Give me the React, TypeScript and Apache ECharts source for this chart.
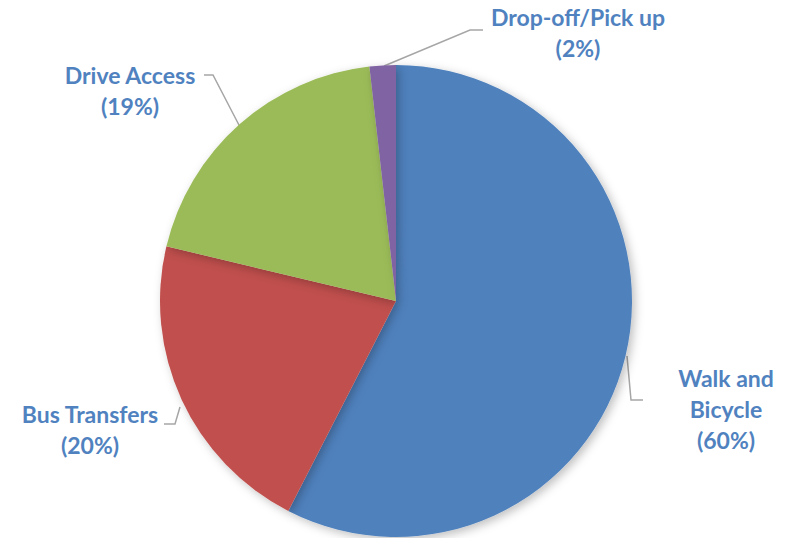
import React, { useEffect, useRef } from "react";
import * as echarts from "echarts";

const categories = ["Walk and\nBicycle", "Bus Transfers", "Drive Access", "Drop-off/Pick up"];
const shares = [57.6, 21.2, 19.5, 1.8];
const pctLabels = ["60%", "20%", "19%", "2%"];
const colors = ["#4F81BD", "#C0504D", "#9BBB59", "#8064A2"];

// label anchor (center) and leader-line points per slice
const labelPos = [
  [726, 409],
  [90, 429],
  [130, 90],
  [578, 32],
];
const linePts = [
  [[627, 356], [631, 400], [643, 400]],
  [[180, 407], [175, 424], [164, 424]],
  [[240, 127], [213, 75], [204, 75]],
  [[384, 66], [470, 30], [483, 30]],
];

export default function App() {
  const ref = useRef<HTMLDivElement>(null);
  useEffect(() => {
    document.body.style.margin = "0";
    const chart = echarts.init(ref.current!, null, { renderer: "svg" });
    chart.setOption({
      animation: false,
      backgroundColor: "#ffffff",
      series: [
        {
          type: "pie",
          center: [396, 301],
          radius: 236,
          startAngle: 90,
          clockwise: true,
          data: categories.map((c, i) => ({
            name: c,
            value: shares[i],
            itemStyle: { color: colors[i] },
          })),
          itemStyle: {
            shadowBlur: 10,
            shadowColor: "rgba(0,0,0,0.25)",
            shadowOffsetX: 3,
            shadowOffsetY: 3,
          },
          label: {
            show: true,
            position: "outside",
            formatter: (p: any) => `${p.name}\n(${pctLabels[p.dataIndex]})`,
            fontFamily: "Lato",
            fontWeight: "bold",
            fontSize: 23,
            lineHeight: 31,
            color: "#5082C0",
            align: "center",
            overflow: "none",
          },
          labelLine: {
            show: true,
            lineStyle: { color: "#A6A6A6", width: 1.5 },
          },
          labelLayout: (p: any) => {
            const i = p.dataIndex;
            return {
              x: labelPos[i][0],
              y: labelPos[i][1],
              align: "center",
              verticalAlign: "middle",
              width: 220,
              labelLinePoints: linePts[i],
            };
          },
          emphasis: { disabled: true },
        },
      ],
    });
    return () => chart.dispose();
  }, []);
  return <div ref={ref} style={{ width: 793, height: 538 }} />;
}
